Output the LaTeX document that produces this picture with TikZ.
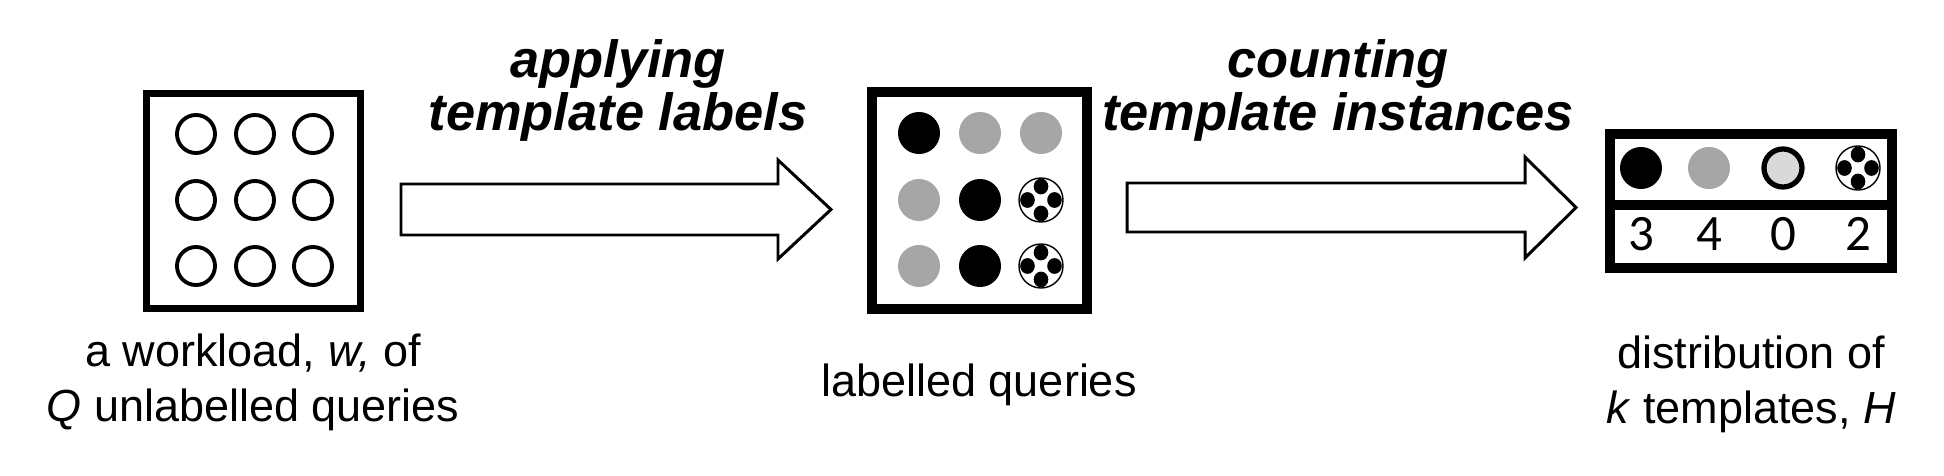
\documentclass[tikz,border=0pt]{standalone}
\usepackage{fontspec}
\setmainfont{Liberation Sans}
\newfontfamily\numfont{Carlito}
\usetikzlibrary{positioning}
\definecolor{tgrey}{HTML}{A6A6A6}
\definecolor{tlight}{HTML}{D9D9D9}

\begin{document}
\begin{tikzpicture}[x=0.01cm,y=-0.01cm,
 frame/.style={draw,line width=2pt,inner sep=0pt},
 bigframe/.style={draw,line width=2.85pt,inner sep=0pt},
 query/.style={circle,draw,line width=1.1pt,minimum size=0.38cm,inner sep=0pt},
 dark/.style={circle,fill=black,minimum size=0.42cm,inner sep=0pt},
 grey/.style={circle,fill=tgrey,minimum size=0.42cm,inner sep=0pt},
 light/.style={circle,draw,fill=tlight,line width=1.5pt,minimum size=0.38cm,inner sep=0pt},
 mixed/.style={circle,draw,fill=white,line width=0.4pt,minimum size=0.44cm,inner sep=0pt,
  path picture={\foreach \a in {0,90,180,270}
   \fill[black,shift={(path picture bounding box.center)}] (\a:0.135cm) ellipse (0.073cm and 0.079cm);}},
 blockarrow/.style={draw,line width=0.85pt,line join=miter},
 caption/.style={anchor=north,align=center,inner sep=0pt,font=\fontsize{12.8pt}{15.6pt}\selectfont},
 step label/.style={anchor=north,align=center,inner sep=0pt,font=\bfseries\itshape\fontsize{14.9pt}{15.1pt}\selectfont},
 count/.style={anchor=base,inner sep=0pt,font=\numfont\fontsize{14.5pt}{16pt}\selectfont}]
\useasboundingbox (0,0) rectangle (1944,476);

% the three boxes
\node[frame,minimum width=2.14cm,minimum height=2.15cm](workload) at (253.5,201){};
\node[bigframe,minimum width=2.15cm,minimum height=2.17cm](labelled) at (979.5,200.5){};
\node[bigframe,minimum width=2.82cm,minimum height=1.34cm](histogram) at (1751,201){};
\draw[line width=2.85pt] ([yshift=-0.04cm]histogram.west) -- ([yshift=-0.04cm]histogram.east);

% unlabelled queries
\foreach \x in {196,255,313}
 \foreach \y in {134,200,266}
  \node[query](w\x\y) at (\x,\y){};

% labelled queries
\foreach \x/\y/\kind in {919/133/dark,980/133/grey,1041/133/grey,
 919/200/grey,980/200/dark,1041/200/mixed,
 919/266/grey,980/266/dark,1041/266/mixed}
  \node[\kind](l\x\y) at (\x,\y){};

% templates and their counts
\foreach \x/\kind/\n in {1641/dark/3,1709/grey/4,1783/light/0,1858/mixed/2}{
  \node[\kind](t\n) at (\x,168){};
  \node[count](c\n) at (\x,251){\n};
}

% arrows
\draw[blockarrow] (401,184) -- (778,184) -- (778,160) -- (831,209.5) -- (778,259) -- (778,235) -- (401,235) -- cycle;
\draw[blockarrow] (1127,183) -- (1525,183) -- (1525,157) -- (1576,207.5) -- (1525,258) -- (1525,232) -- (1127,232) -- cycle;

\node[step label](apply) at (618,39){applying\\template labels};
\node[step label](counting) at (1338,39){counting\\template instances};

% captions
\node[caption](wcap) at (253,333){a workload, \textit{w,} of\\\textit{Q} unlabelled queries};
\node[caption](lcap) at (979,363){labelled queries};
\node[caption](hcap) at (1751,335){distribution of\\\textit{k} templates, \textit{H}};
\end{tikzpicture}
\end{document}
